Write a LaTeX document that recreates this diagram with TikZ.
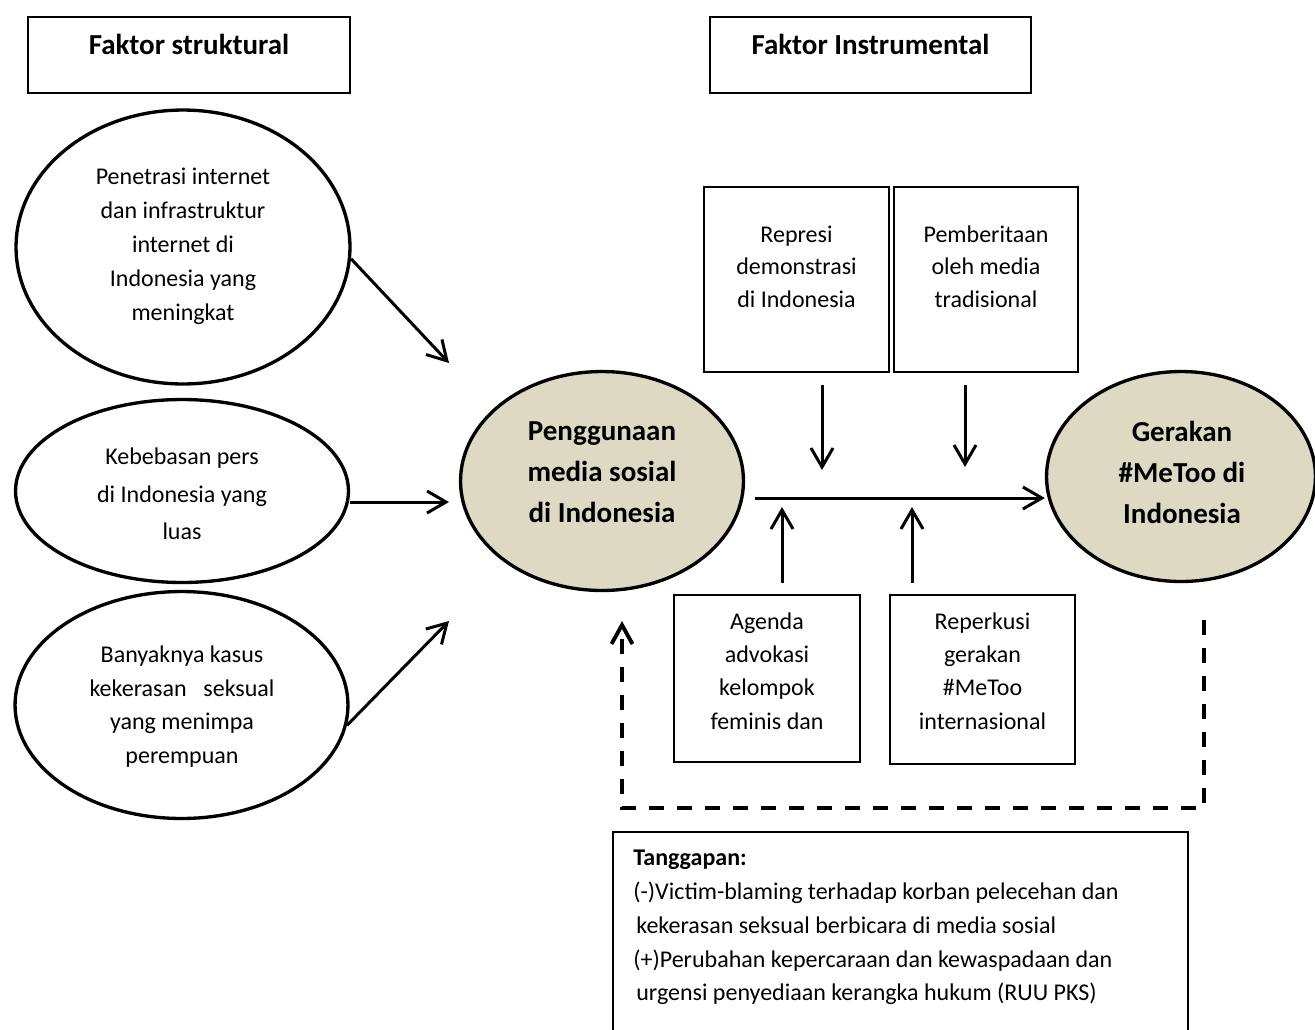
\documentclass[tikz,border=0pt]{standalone}
\usepackage{fontspec}
\setmainfont{Carlito}
\usetikzlibrary{arrows.meta,shapes.geometric}
\definecolor{ovalfill}{HTML}{DDD9C3}
\begin{document}
\begin{tikzpicture}[x=0.02cm,y=-0.02cm,
  oval/.style={ellipse,draw,line width=1.9pt,inner sep=0pt},
  hbox/.style={rectangle,draw,line width=0.9pt,inner sep=0pt},
  ibox/.style={rectangle,draw,line width=1.3pt,inner sep=0pt},
  txt/.style={align=center,inner sep=0pt,font=\fontsize{13.66}{19.3}\selectfont},
  btxt/.style={align=center,inner sep=0pt,font=\fontsize{16.5}{23.3}\selectfont\bfseries},
  arr/.style={line width=1.7pt,-{Straight Barb[length=0.38cm,width=0.44cm]}},
  darr/.style={line width=2.2pt,dash pattern=on 0.3cm off 0.26cm,-{Straight Barb[length=0.38cm,width=0.42cm]}}
]
\useasboundingbox (0,0) rectangle (1315,1029);

% headings
\node[hbox,minimum width=6.44cm,minimum height=1.52cm] (h1) at (189,55) {};
\node[hbox,minimum width=6.42cm,minimum height=1.52cm] (h2) at (870.5,55) {};
\node[inner sep=0pt,anchor=base,font=\fontsize{16.5}{20}\selectfont\bfseries] (h1t) at (189,54) {Faktor struktural};
\node[inner sep=0pt,anchor=base,font=\fontsize{16.5}{20}\selectfont\bfseries] (h2t) at (870.5,54) {Faktor Instrumental};

% left ellipses
\node[oval,minimum width=6.68cm,minimum height=5.48cm] (e1) at (183,247) {};
\node[txt] (e1t) at (183,246.5) {Penetrasi internet\\dan infrastruktur\\internet di\\Indonesia yang\\meningkat};
\node[oval,minimum width=6.66cm,minimum height=3.66cm] (e2) at (182,491) {};
\node[txt,font=\fontsize{13.66}{21.3}\selectfont] (e2t) at (182,494) {Kebebasan pers\\di Indonesia yang\\luas};
\node[oval,minimum width=6.66cm,minimum height=4.54cm] (e3) at (181.5,705) {};
\node[txt,font=\fontsize{13.66}{19.2}\selectfont] (e3t) at (182,706.5) {Banyaknya kasus\\kekerasan\hspace{0.7em}seksual\\yang menimpa\\perempuan};

% central ellipses
\node[oval,fill=ovalfill,minimum width=5.66cm,minimum height=4.38cm] (eP) at (602,481) {};
\node[btxt] (ePt) at (602,472) {Penggunaan\\media sosial\\di Indonesia};
\node[oval,fill=ovalfill,minimum width=5.38cm,minimum height=4.2cm] (eG) at (1181,476.5) {};
\node[btxt] (eGt) at (1182,472) {Gerakan\\\#MeToo di\\Indonesia};

% instrumental boxes
\node[ibox,minimum width=3.7cm,minimum height=3.7cm] (bR) at (796.5,279.5) {};
\node[txt,font=\fontsize{13.66}{18.5}\selectfont] (bRt) at (796.5,266.5) {Represi\\demonstrasi\\di Indonesia};
\node[ibox,minimum width=3.68cm,minimum height=3.7cm] (bB) at (986,279.5) {};
\node[txt,font=\fontsize{13.66}{18.5}\selectfont] (bBt) at (986,266.5) {Pemberitaan\\oleh media\\tradisional};
\node[ibox,minimum width=3.72cm,minimum height=3.34cm] (bA) at (767,678.5) {};
\node[txt,font=\fontsize{13.66}{18.95}\selectfont] (bAt) at (767,671) {Agenda\\advokasi\\kelompok\\feminis dan};
\node[ibox,minimum width=3.7cm,minimum height=3.38cm] (bK) at (982.5,679.5) {};
\node[txt,font=\fontsize{13.66}{18.95}\selectfont] (bKt) at (982.5,671) {Reperkusi\\gerakan\\\#MeToo\\internasional};

% response box
\node[ibox,line width=1pt,minimum width=11.5cm,minimum height=4.26cm] (bT) at (900.5,938.5) {};
\node[inner sep=0pt,align=left,anchor=north west,font=\fontsize{13.66}{19.2}\selectfont] (bTt) at (633,850)
 {\textbf{Tanggapan:}\\(-)Victim-blaming terhadap korban pelecehan dan\\\hspace*{0.06cm}kekerasan seksual berbicara di media sosial\\(+)Perubahan kepercaraan dan kewaspadaan dan\\\hspace*{0.06cm}urgensi penyediaan kerangka hukum (RUU PKS)};

% connector end points
\coordinate (c1) at (449,363);
\coordinate (c2) at (449,502);
\coordinate (c3) at (449,621);
\coordinate (d1s) at (822,385);
\coordinate (d1e) at (822,470);
\coordinate (d2s) at (965,385);
\coordinate (d2e) at (965,467);
\coordinate (u1s) at (782,583);
\coordinate (u1e) at (782,507);
\coordinate (u2s) at (912,583);
\coordinate (u2e) at (912,507);
\coordinate (hs) at (755,498);
\coordinate (fs) at (1204,620);
\coordinate (fc1) at (1204,808);
\coordinate (fc2) at (622,808);
\coordinate (fe) at (622,621);

% connectors
\draw[arr] (e1.-4) -- (c1);
\draw[arr] (c2 -| e2.east) -- (c2);
\draw[arr] (e3.-7) -- (c3);
\draw[arr] (d1s) -- (d1e);
\draw[arr] (d2s) -- (d2e);
\draw[arr] (u1s) -- (u1e);
\draw[arr] (u2s) -- (u2e);
\draw[arr] (hs) -- (hs -| eG.west);
\draw[darr] (fs) -- (fc1) -- (fc2) -- (fe);
\end{tikzpicture}
\end{document}
